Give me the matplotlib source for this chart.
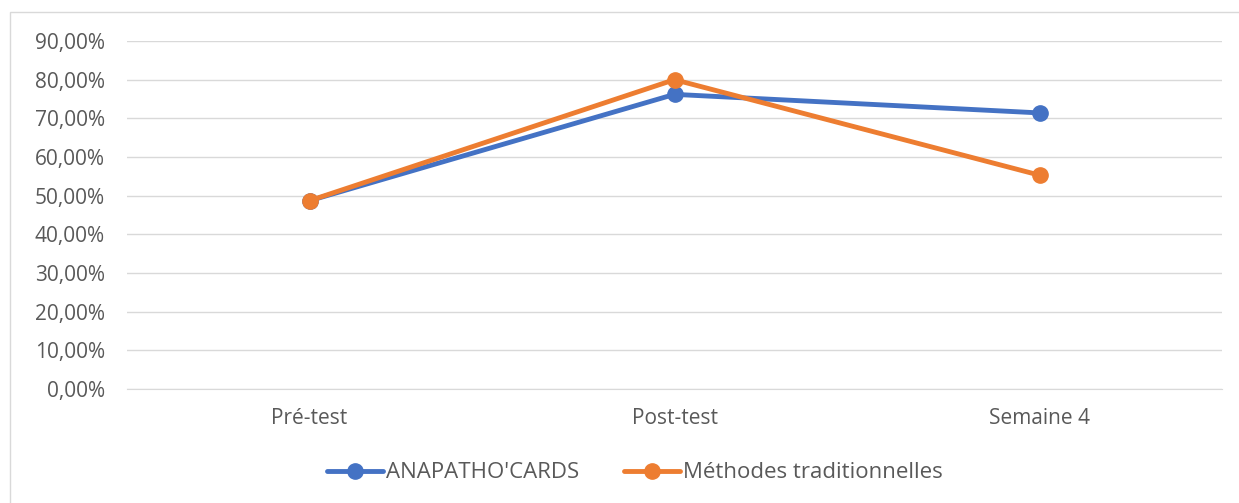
import matplotlib.pyplot as plt
from matplotlib.patches import Rectangle
from matplotlib.ticker import FuncFormatter

# Data
categories = ["Pré-test", "Post-test", "Semaine 4"]
anapatho = [0.487, 0.762, 0.714]
traditionnelles = [0.487, 0.800, 0.553]

blue = "#4472C4"
orange = "#ED7D31"
text_col = "#595959"

plt.rcParams['font.family'] = ['Open Sans', 'DejaVu Sans']

fig = plt.figure(figsize=(12.39, 5.03), dpi=100)
ax = fig.add_axes([127/1239, 114/503, (1222-127)/1239, (389-41)/503])

# outer chart border
fig.patches.append(Rectangle((10/1239, -0.05), 1.2, (503-12)/503 + 0.05,
                             transform=fig.transFigure, fill=False,
                             edgecolor="#D9D9D9", linewidth=1))

x = range(len(categories))
ax.plot(x, anapatho, color=blue, linewidth=3.5, marker='o', markersize=11,
        label="ANAPATHO'CARDS", solid_capstyle='round')
ax.plot(x, traditionnelles, color=orange, linewidth=3.5, marker='o', markersize=11,
        label="Méthodes traditionnelles", solid_capstyle='round')

ax.set_xlim(-0.5, 2.5)
ax.set_ylim(0, 0.9)
ax.set_yticks([i / 10 for i in range(10)])
ax.yaxis.set_major_formatter(FuncFormatter(lambda v, p: f"{v*100:.2f}%".replace('.', ',')))
ax.set_xticks(list(x))
ax.set_xticklabels(categories)

ax.grid(axis='y', color="#D9D9D9", linewidth=1)
ax.set_axisbelow(True)
for s in ['top', 'right', 'left']:
    ax.spines[s].set_visible(False)
ax.spines['bottom'].set_color("#D9D9D9")
ax.tick_params(axis='both', length=0, labelsize=15, colors=text_col)
ax.tick_params(axis='y', pad=16)
ax.tick_params(axis='x', pad=14)

leg = fig.legend(loc='center', bbox_to_anchor=(635/1239, 1 - 473/503), ncol=2,
                 frameon=False, fontsize=16, handlelength=2.5, columnspacing=2.0,
                 handletextpad=0.15)
for t in leg.get_texts():
    t.set_color(text_col)

fig.savefig("out.png", dpi=100)
